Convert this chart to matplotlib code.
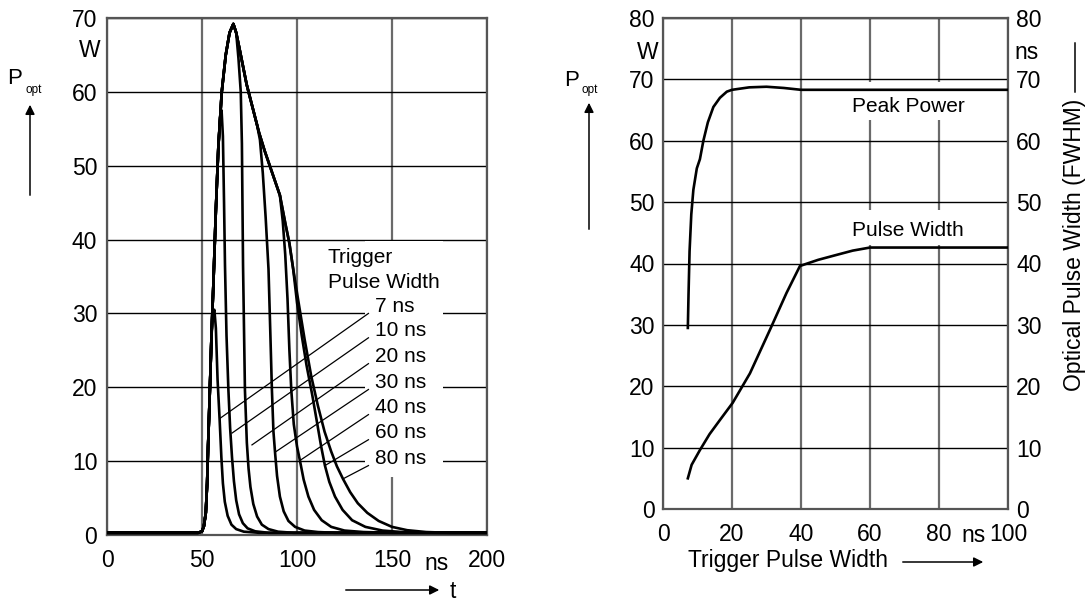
import matplotlib
matplotlib.use("Agg")
import matplotlib.pyplot as plt
from matplotlib.patches import Rectangle, FancyArrowPatch

plt.rcParams['font.family'] = ['Liberation Sans', 'DejaVu Sans']

# ---- left chart: optical pulse shapes (t in ns, P in W) ----
# shared rising edge
rise_t = [0, 48, 50, 51, 52, 52.7, 53.2, 53.7, 54.3, 55, 56, 57.3, 58.6, 60.4, 62.5, 64.5, 66.5]
rise_p = [0.3, 0.3, 0.5, 1.2, 3, 7, 12, 16, 21, 27, 34, 44, 52.5, 60, 65, 68, 69.2]
# falling part after the common peak (outer envelope)
env_t = [68, 70, 73.5, 77, 80, 83, 87, 91, 94, 96, 98]
env_p = [68, 65.5, 61, 57.5, 54.5, 52, 49, 46, 42, 39.5, 36]

fall_7_t = [55.8, 56.5, 57.3, 58.2, 59.3, 60.2, 61, 62, 63.5, 65.5, 68, 72, 80, 200]
fall_7_p = [30, 30.5, 28, 21, 15.5, 10.5, 7, 4.5, 2.6, 1.4, 0.8, 0.45, 0.3, 0.3]
fall_10_t = [59.5, 60.3, 61, 61.6, 62.1, 62.9, 63.9, 64.8, 65.8, 66.8, 68, 69.5, 71.5, 74, 78, 85, 200]
fall_10_p = [56.5, 57.5, 54, 45, 36.5, 27, 19.6, 14.5, 10.5, 7.3, 4.7, 2.8, 1.6, 0.9, 0.5, 0.3, 0.3]
fall_20_t = [69.2, 70.4, 71, 71.6, 72.6, 73.6, 74.5, 75.5, 77, 79, 81.5, 85, 90, 98, 200]
fall_20_p = [64.5, 60, 53, 36.5, 19.6, 12.5, 9, 6.5, 4.2, 2.5, 1.4, 0.8, 0.45, 0.3, 0.3]
fall_30_t = [79, 80.5, 82, 83.5, 85, 86, 86.8, 87.6, 88.5, 89.5, 91, 93, 95.5, 99, 104, 111, 120, 200]
fall_30_p = [55.5, 53.5, 49, 43, 36, 27, 19.6, 14, 11, 8, 5.2, 3.2, 1.9, 1.1, 0.6, 0.4, 0.3, 0.3]
fall_40_t = [92.5, 93.8, 95, 96, 97, 98.3, 100, 101.6, 103.5, 106, 109, 113, 118, 125, 135, 150, 200]
fall_40_p = [42.5, 38, 32, 25, 19.6, 15, 12, 10, 7.5, 5.2, 3.4, 2, 1.1, 0.6, 0.4, 0.3, 0.3]
fall_60_t = [100, 102.5, 105, 108, 110.5, 112.7, 114.7, 117, 120, 124, 129, 136, 145, 158, 175, 200]
fall_60_p = [31.5, 27, 23, 19, 15.3, 12, 9.4, 7.2, 5.2, 3.4, 2, 1.1, 0.6, 0.35, 0.3, 0.3]
fall_80_t = [100.5, 104, 107.5, 111, 114.5, 118, 121, 124.2, 128, 132, 137, 143, 150, 158, 168, 180, 200]
fall_80_p = [32, 26.5, 21.5, 17.5, 14, 11.3, 9.3, 7.6, 5.8, 4.3, 3, 1.9, 1.1, 0.65, 0.4, 0.3, 0.3]

trigger_labels = ['7 ns', '10 ns', '20 ns', '30 ns', '40 ns', '60 ns', '80 ns']
# where each leader line touches its curve
leader_t = [59.5, 65.8, 76.3, 88.4, 101.6, 114.7, 124.2]
leader_p = [15.8, 13.8, 12.2, 11.2, 10.1, 9.4, 7.6]

# ---- right chart: peak power and optical pulse width vs trigger width ----
pp_trig = [7.2, 7.4, 7.7, 8.2, 8.8, 9.8, 10.7, 11.7, 13, 14.6, 16.5, 18.5, 20, 25, 30, 35, 40, 60, 80, 100]
peak_power = [29.5, 35, 42, 48, 52, 55.5, 57, 60, 63, 65.5, 67, 68, 68.3, 68.7, 68.8, 68.6, 68.3, 68.3, 68.3, 68.3]
pw_trig = [7.2, 8.3, 10.7, 13.5, 16.5, 20.2, 25.2, 31, 35.8, 39.7, 45, 50.3, 55, 60, 80, 100]
pulse_width = [5, 7.2, 9.6, 12.2, 14.5, 17.3, 22.1, 29.2, 35.2, 39.6, 40.6, 41.4, 42.1, 42.6, 42.6, 42.6]

W, H = 1090, 601
TICK_FS = 16.5
NOTE_FS = 15


def px(x, y):
    return (x / W, 1 - y / H)


fig = plt.figure(figsize=(W / 100, H / 100), dpi=100)
ax1 = fig.add_axes([107 / W, 1 - 535 / H, 380 / W, 517 / H])
ax2 = fig.add_axes([663 / W, 1 - 509 / H, 345 / W, 491 / H])

for ax in (ax1, ax2):
    ax.set_axisbelow(True)
    ax.grid(axis='x', color='#6a6a6a', lw=1.6)
    ax.grid(axis='y', color='black', lw=1.0)
    for s in ax.spines.values():
        s.set_color('#555555')
        s.set_linewidth(1.6)
    ax.tick_params(length=0, labelsize=TICK_FS)

# left chart
curve_kw = dict(color='black', lw=1.9, zorder=3)
ax1.plot(rise_t[:10] + fall_7_t, rise_p[:10] + fall_7_p, **curve_kw)
ax1.plot(rise_t[:13] + fall_10_t, rise_p[:13] + fall_10_p, **curve_kw)
ax1.plot(rise_t + env_t[:1] + fall_20_t, rise_p + env_p[:1] + fall_20_p, **curve_kw)
ax1.plot(rise_t + env_t[:4] + fall_30_t, rise_p + env_p[:4] + fall_30_p, **curve_kw)
ax1.plot(rise_t + env_t[:8] + fall_40_t, rise_p + env_p[:8] + fall_40_p, **curve_kw)
ax1.plot(rise_t + env_t + fall_60_t, rise_p + env_p + fall_60_p, **curve_kw)
ax1.plot(rise_t + env_t + fall_80_t, rise_p + env_p + fall_80_p, **curve_kw)

ax1.set_xlim(0, 200)
ax1.set_ylim(0, 70)
ax1.set_xticks([0, 50, 100, 150, 200])
ax1.set_yticks(range(0, 80, 10))
ax1.tick_params(axis='x', pad=10)
ax1.tick_params(axis='y', pad=7)
ax1.text(173.7, -3.8, 'ns', ha='center', va='center', fontsize=TICK_FS, clip_on=False)
ax1.text(-9, 65.6, 'W', ha='center', va='center', fontsize=TICK_FS, clip_on=False)

ax1.add_patch(Rectangle((136, 7.8), 41, 32, facecolor='white', edgecolor='none', zorder=1))
ax1.text(116.3, 37.6, 'Trigger', fontsize=NOTE_FS, va='center', zorder=4)
ax1.text(116.3, 34.2, 'Pulse Width', fontsize=NOTE_FS, va='center', zorder=4)
label_y = [31.0, 27.7, 24.2, 20.7, 17.3, 13.9, 10.4]
for lab, ly, lt, lp in zip(trigger_labels, label_y, leader_t, leader_p):
    ax1.text(141, ly, lab, fontsize=NOTE_FS, va='center', zorder=4)
    ax1.plot([137.6, lt], [ly - 1.0, lp], color='black', lw=0.9, zorder=4)

# right chart
ax2.add_patch(Rectangle((52, 63.4), 47.5, 6.2, facecolor='white', edgecolor='none', zorder=1))
ax2.add_patch(Rectangle((52, 43.0), 47.5, 5.7, facecolor='white', edgecolor='none', zorder=1))
ax2.plot(pp_trig, peak_power, **curve_kw)
ax2.plot(pw_trig, pulse_width, **curve_kw)
ax2.text(71, 65.5, 'Peak Power', ha='center', va='center', fontsize=NOTE_FS, zorder=4)
ax2.text(71, 45.3, 'Pulse Width', ha='center', va='center', fontsize=NOTE_FS, zorder=4)
ax2.set_xlim(0, 100)
ax2.set_ylim(0, 80)
ax2.set_xticks([0, 20, 40, 60, 80, 100])
ax2.set_yticks(range(0, 90, 10))
ax2.tick_params(axis='x', pad=10)
ax2.tick_params(axis='y', pad=6, labelleft=True, labelright=True)
ax2.text(90, -4.3, 'ns', ha='center', va='center', fontsize=TICK_FS, clip_on=False)
ax2.text(-4.5, 74.3, 'W', ha='center', va='center', fontsize=TICK_FS, clip_on=False)
ax2.text(102.0, 74.3, 'ns', ha='left', va='center', fontsize=TICK_FS, clip_on=False)

# axis captions and arrows (figure pixels)
arrow_kw = dict(arrowstyle='-|>', color='black', lw=1.1, mutation_scale=14)
fig.text(*px(7, 78), 'P', fontsize=16, ha='left', va='center')
fig.text(*px(25, 90), 'opt', fontsize=8.5, ha='left', va='center')
fig.add_artist(FancyArrowPatch(px(30, 198), px(30, 102), transform=fig.transFigure, **arrow_kw))

fig.text(*px(564, 80), 'P', fontsize=16, ha='left', va='center')
fig.text(*px(582, 90), 'opt', fontsize=8.5, ha='left', va='center')
fig.add_artist(FancyArrowPatch(px(589, 232), px(589, 100), transform=fig.transFigure, **arrow_kw))

fig.add_artist(FancyArrowPatch(px(343, 590), px(442, 590), transform=fig.transFigure, **arrow_kw))
fig.text(*px(450, 591), 't', fontsize=TICK_FS, ha='left', va='center')

fig.text(*px(788, 561), 'Trigger Pulse Width', fontsize=TICK_FS, ha='center', va='center')
fig.add_artist(FancyArrowPatch(px(900, 562), px(986, 562), transform=fig.transFigure, **arrow_kw))

fig.text(*px(1075, 245), 'Optical Pulse Width (FWHM)', fontsize=TICK_FS, rotation=90, ha='center', va='center')
fig.add_artist(FancyArrowPatch(px(1075, 95), px(1075, 40), transform=fig.transFigure,
                               arrowstyle='-', color='black', lw=1.1))

fig.savefig('out.png', dpi=100)
